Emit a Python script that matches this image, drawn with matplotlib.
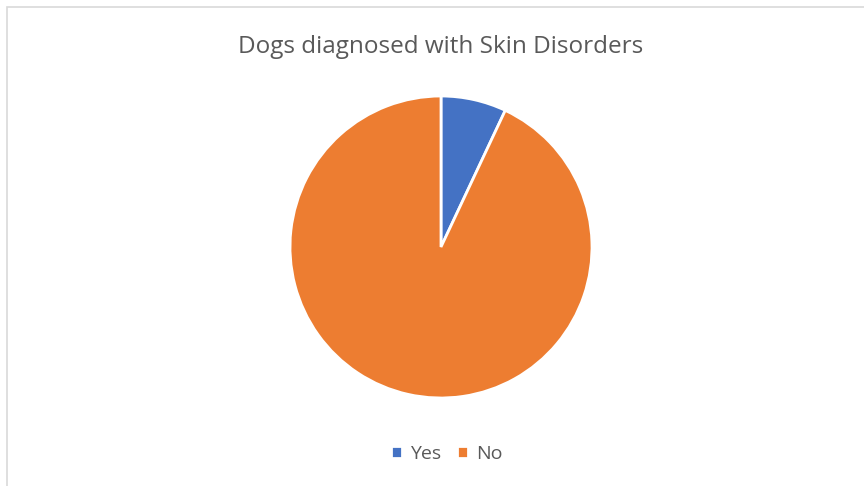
import matplotlib
matplotlib.use('Agg')
from matplotlib import pyplot as plt
from matplotlib.patches import Rectangle

labels = ['Yes', 'No']
values = [7, 93]
colors = ['#4472C4', '#ED7D31']
title = 'Dogs diagnosed with Skin Disorders'

W, H = 864, 486
fig = plt.figure(figsize=(W / 100, H / 100), dpi=100)

# chart area border (light grey, only left/top visible in the reference)
fig.patches.append(Rectangle((6.5 / W, -0.05), 1.2, 1 - 7.5 / H + 0.05,
                             transform=fig.transFigure, fill=False,
                             edgecolor='#d9d9d9', linewidth=1.2))

cx, cy, r = 441, 247, 151
ax = fig.add_axes([(cx - r) / W, (H - cy - r) / H, 2 * r / W, 2 * r / H])
wedges, _ = ax.pie(values, colors=colors, startangle=90, counterclock=False,
                   wedgeprops=dict(edgecolor='white', linewidth=2))
ax.set_xlim(-1.0, 1.0)
ax.set_ylim(-1.0, 1.0)
ax.set_aspect('equal')
ax.axis('off')

fig.text(cx / W, 1 - 47 / H, title, ha='center', va='center',
         fontsize=17.5, color='#595959', family='Open Sans')

leg = fig.legend(wedges, labels, loc='center', bbox_to_anchor=(447 / W, 1 - 454 / H),
                 ncol=2, frameon=False, handlelength=0.55, handleheight=0.55,
                 handletextpad=0.45, columnspacing=0.8,
                 prop={'family': 'Open Sans', 'size': 14})
for t in leg.get_texts():
    t.set_color('#595959')

fig.savefig('out.png', dpi=100, facecolor='white')
